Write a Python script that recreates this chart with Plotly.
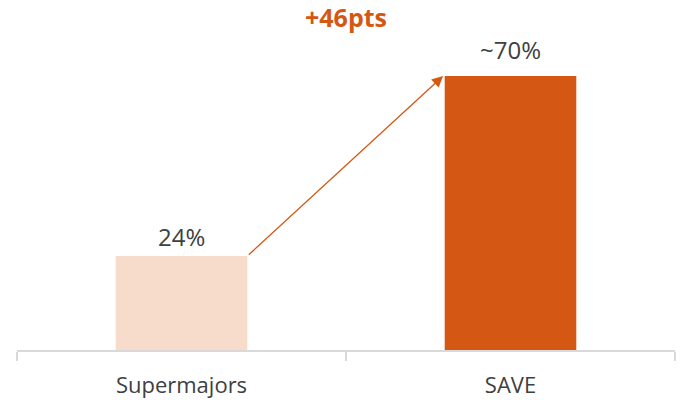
import plotly.graph_objects as go

categories = ["Supermajors", "SAVE"]
values = [24, 70]
value_labels = ["24%", "~70%"]
delta_label = "+46pts"

bar_colors = ["#F8DCCB", "#D45713"]
label_shifts = [20, 27]
FONT = "Open Sans, sans-serif"

fig = go.Figure()
fig.add_trace(go.Bar(
    x=categories, y=values, width=0.4,
    marker=dict(color=bar_colors, line=dict(width=0)),
    hoverinfo="x+y",
))

for cat, val, lab, sh in zip(categories, values, value_labels, label_shifts):
    fig.add_annotation(
        x=cat, y=val, xref="x", yref="y", yanchor="middle",
        text=lab, showarrow=False, yshift=sh,
        font=dict(size=24, color="#404040", family=FONT),
    )

fig.add_annotation(
    x=0.795, y=values[1], xref="x", yref="y",
    ax=0.2, ay=values[0], axref="x", ayref="y",
    showarrow=True, arrowhead=2, arrowsize=1.7, arrowwidth=1.3,
    arrowcolor="#D45713", text="", standoff=0,
)
fig.add_annotation(
    x=0.5, y=1.0, xref="x", yref="paper", yanchor="middle",
    text="<b>" + delta_label + "</b>", showarrow=False,
    font=dict(size=25, color="#D45713", family=FONT),
    yshift=23,
)

fig.update_layout(
    width=687, height=400,
    margin=dict(l=17, r=12, t=40, b=50),
    plot_bgcolor="white", paper_bgcolor="white",
    showlegend=False,
    xaxis=dict(
        range=[-0.5, 1.5], showline=True, linecolor="#D9D9D9", linewidth=1.5,
        ticks="outside", tickson="boundaries", ticklen=9, tickcolor="#D9D9D9",
        tickwidth=1.5, ticklabelstandoff=15,
        tickfont=dict(size=22, color="#404040", family=FONT),
        showgrid=False, automargin=False, fixedrange=True,
    ),
    yaxis=dict(range=[0, 79.2], visible=False, showgrid=False,
               automargin=False, fixedrange=True),
)

fig.write_html("out.html", config={"displayModeBar": False},
               post_script="document.body.style.margin='0';")
